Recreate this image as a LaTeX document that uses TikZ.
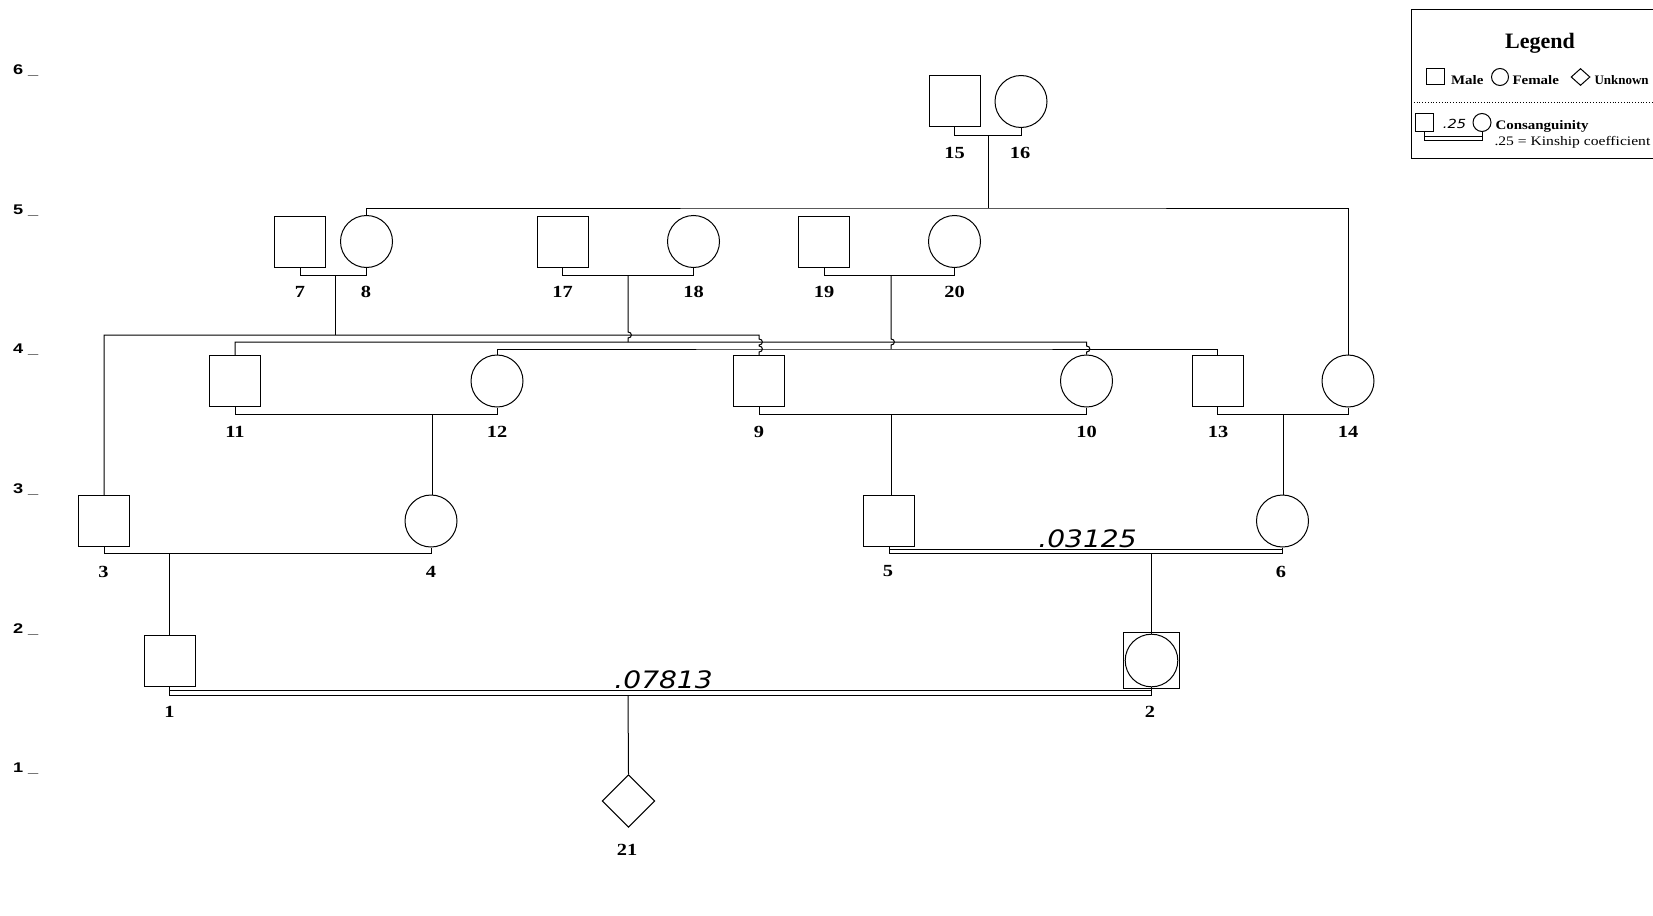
\documentclass[tikz,border=0pt]{standalone}
\usepackage{fontspec}
\setmainfont{Liberation Serif}
\newfontfamily\labfont{Liberation Serif}[FakeStretch=1.2]
\newfontfamily\legfont{Liberation Serif}[FakeStretch=1.15]
\newfontfamily\legwide{Liberation Serif}[FakeStretch=1.2]
\newfontfamily\genfont{Liberation Sans}[FakeStretch=1.3]
\newfontfamily\kinfont{DejaVu Sans}[FakeStretch=1.17]
\usetikzlibrary{shapes.geometric}
\begin{document}
\begin{tikzpicture}[x=1pt,y=-1pt,line width=1pt,
  male/.style={draw,rectangle,minimum size=51pt,inner sep=0pt},
  female/.style={draw,circle,minimum size=52pt,inner sep=0pt},
  unk/.style={draw,diamond,aspect=1,minimum width=52.6pt,minimum height=52.6pt,inner sep=0pt},
  lab/.style={font=\labfont\bfseries\fontsize{17}{17}\selectfont,inner sep=0pt},
  gen/.style={font=\genfont\bfseries\fontsize{14}{14}\selectfont,inner sep=0pt,anchor=base west},
  kin/.style={font=\kinfont\itshape\fontsize{24}{24}\selectfont,inner sep=0pt,anchor=base},
  kinsmall/.style={font=\kinfont\itshape\fontsize{12.5}{12.5}\selectfont,inner sep=0pt,anchor=base},
  legtext/.style={font=\legfont\bfseries\fontsize{13}{13}\selectfont,inner sep=0pt,anchor=base west},
  legnarrow/.style={font=\bfseries\fontsize{13}{13}\selectfont,inner sep=0pt,anchor=base west},
  legplain/.style={font=\legwide\fontsize{13}{13}\selectfont,inner sep=0pt,anchor=base west}
]
\useasboundingbox (0,0) rectangle (1653,915);
\clip (0,0) rectangle (1653,915);
\fill[white] (0,0) rectangle (1653,915);

% generation labels
\node[gen] (g6) at (12.5,74.5) {6 \_};
\node[gen] (g5) at (12.5,214) {5 \_};
\node[gen] (g4) at (12.5,353.7) {4 \_};
\node[gen] (g3) at (12.5,493.3) {3 \_};
\node[gen] (g2) at (12.5,633) {2 \_};
\node[gen] (g1) at (12.5,772.5) {1 \_};

% individuals
\node[male] (n15) at (954.5,101) {};
\node[female] (n16) at (1021,101.5) {};

\node[male] (n7) at (300,241.5) {};
\node[female] (n8) at (366.5,241.5) {};
\node[male] (n17) at (562.5,241.5) {};
\node[female] (n18) at (693.5,241.5) {};
\node[male] (n19) at (824,241.5) {};
\node[female] (n20) at (954.5,241.5) {};

\node[male] (n11) at (235,381) {};
\node[female] (n12) at (497,381) {};
\node[male] (n9) at (759,381) {};
\node[female] (n10) at (1086.5,381) {};
\node[male] (n13) at (1217.5,381) {};
\node[female] (n14) at (1348,381) {};

\node[male] (n3) at (104,521) {};
\node[female] (n4) at (431,521) {};
\node[male] (n5) at (889,521) {};
\node[female] (n6) at (1282.5,521) {};

\node[male] (n1) at (169.5,661) {};
\node[draw,rectangle,minimum size=56pt,inner sep=0pt] (n2) at (1151.5,660.5) {};
\node[draw,circle,minimum size=52.6pt,inner sep=0pt] (n2c) at (1151.5,660.5) {};

\node[unk] (n21) at (628.5,801) {};

% labels
\node[lab] (l15) at (954.5,153.3) {15};
\node[lab] (l16) at (1020,153.3) {16};
\node[lab] (l7) at (300,292) {7};
\node[lab] (l8) at (366,292) {8};
\node[lab] (l17) at (562.5,292) {17};
\node[lab] (l18) at (693.5,292) {18};
\node[lab] (l19) at (824,292) {19};
\node[lab] (l20) at (954.5,292) {20};
\node[lab] (l11) at (235,431.7) {11};
\node[lab] (l12) at (497,431.7) {12};
\node[lab] (l9) at (759,431.7) {9};
\node[lab] (l10) at (1086.5,431.7) {10};
\node[lab] (l13) at (1218,431.7) {13};
\node[lab] (l14) at (1348,431.7) {14};
\node[lab] (l3) at (103.5,571.5) {3};
\node[lab] (l4) at (431,571.5) {4};
\node[lab] (l5) at (888,571.5) {5};
\node[lab] (l6) at (1281,571.5) {6};
\node[lab] (l1) at (169.5,711.5) {1};
\node[lab] (l2) at (1150,711.5) {2};
\node[lab] (l21) at (627,850) {21};

% marriage points
\coordinate (m1516) at (988,135.5);
\coordinate (m78) at (335,275);
\coordinate (m1718) at (628,275);
\coordinate (m1920) at (891,275);
\coordinate (m1112) at (432,414.5);
\coordinate (m910) at (891,414.5);
\coordinate (m1314) at (1283.5,414.5);
\coordinate (m34) at (169.7,553.5);
\coordinate (m56) at (1151.5,553.7);
\coordinate (d56) at (1151.5,549);
\coordinate (m12) at (628,695);
\coordinate (d12) at (628,690);

% marriage lines
\draw (n15.south) -- (n15.south |- m1516) -| (n16.south);
\draw (n7.south) -- (n7.south |- m78) -| (n8.south);
\draw (n17.south) -- (n17.south |- m1718) -| (n18.south);
\draw (n19.south) -- (n19.south |- m1920) -| (n20.south);
\draw (n11.south) -- (n11.south |- m1112) -| (n12.south);
\draw (n9.south) -- (n9.south |- m910) -| (n10.south);
\draw (n13.south) -- (n13.south |- m1314) -| (n14.south);
\draw (n3.south) -- (n3.south |- m34) -| (n4.south);
% consanguineous (double) lines
\draw (n5.south) -- (n5.south |- m56) -| (n6.south);
\draw (n5.south |- d56) -- (n6.south |- d56);
\draw (n1.south) -- (n1.south |- m12) -| (n2c.south);
\draw (n1.south |- d12) -- (n2c.south |- d12);

% sibship lines
\coordinate (s6) at (988,208);
\draw (m1516) -- (s6);
\draw (n8.north) |- (s6) -| (n14.north);

\coordinate (sA) at (335,335);
\draw (m78) -- (sA);
\draw (n3.north) |- (sA) -- (759,335) -- (759,339)
  .. controls (763.5,339) and (763.5,345) .. (759,345) -- (759,346)
  .. controls (763.5,346) and (763.5,352) .. (759,352) -- (n9.north);

\coordinate (sB) at (628,342);
\draw (m1718) -- (628,332) .. controls (632.5,332) and (632.5,338) .. (628,338) -- (sB);
\draw (n11.north) |- (sB) -- (1086.5,342) -- (1086.5,346)
  .. controls (1091,346) and (1091,352) .. (1086.5,352) -- (n10.north);

\coordinate (sC) at (891,349);
\draw (m1920) -- (891,339) .. controls (895.5,339) and (895.5,345) .. (891,345) -- (sC);
\draw (n12.north) |- (sC) -| (n13.north);

% descent lines
\draw (m1112) -- (m1112 |- n4.north);
\draw (m910) -- (m910 |- n5.north);
\draw (m1314) -- (m1314 |- n6.north);
\draw (m34) -- (m34 |- n1.north);
\draw (m56) -- (n2c.north);
\draw (m12) -- (n21.north);

% kinship coefficients
\node[kin] (k56) at (1087.5,547.3) {.03125};
\node[kin] (k12) at (663.6,688.3) {.07813};

% legend
\draw (1411,9.3) rectangle (1700,158.3);
\node[font=\bfseries\fontsize{22}{22}\selectfont,inner sep=0pt,anchor=base] (legtitle) at (1540,48.3) {Legend};
\node[draw,rectangle,minimum width=18pt,minimum height=16pt,inner sep=0pt] (lgm) at (1435.5,77) {};
\node[legtext] (lgmt) at (1450.5,85) {Male};
\node[draw,circle,minimum size=17pt,inner sep=0pt] (lgf) at (1500,77) {};
\node[legtext] (lgft) at (1512,85) {Female};
\node[draw,diamond,aspect=1.15,minimum width=19pt,minimum height=17pt,inner sep=0pt] (lgu) at (1580.5,77) {};
\node[legnarrow] (lgut) at (1594,85) {Unknown};
\draw[dotted,line width=0.8pt] (1411,102.3) -- (1700,102.3);
\node[draw,rectangle,minimum size=18pt,inner sep=0pt] (lgcm) at (1424,122.3) {};
\node[draw,circle,minimum size=18pt,inner sep=0pt] (lgcf) at (1482,122.5) {};
\coordinate (lgd1) at (1424,136.7);
\coordinate (lgd2) at (1424,140);
\draw (lgcm.south) -- (lgd2) -| (lgcf.south);
\draw (lgd1) -- (lgd1 -| lgcf.south);
\node[kinsmall] (lg25) at (1454.5,128.5) {.25};
\node[legtext] (lgct) at (1495,129.5) {Consanguinity};
\node[legplain] (lgkt) at (1494,146) {.25 = Kinship coefficient};
\end{tikzpicture}
\end{document}
